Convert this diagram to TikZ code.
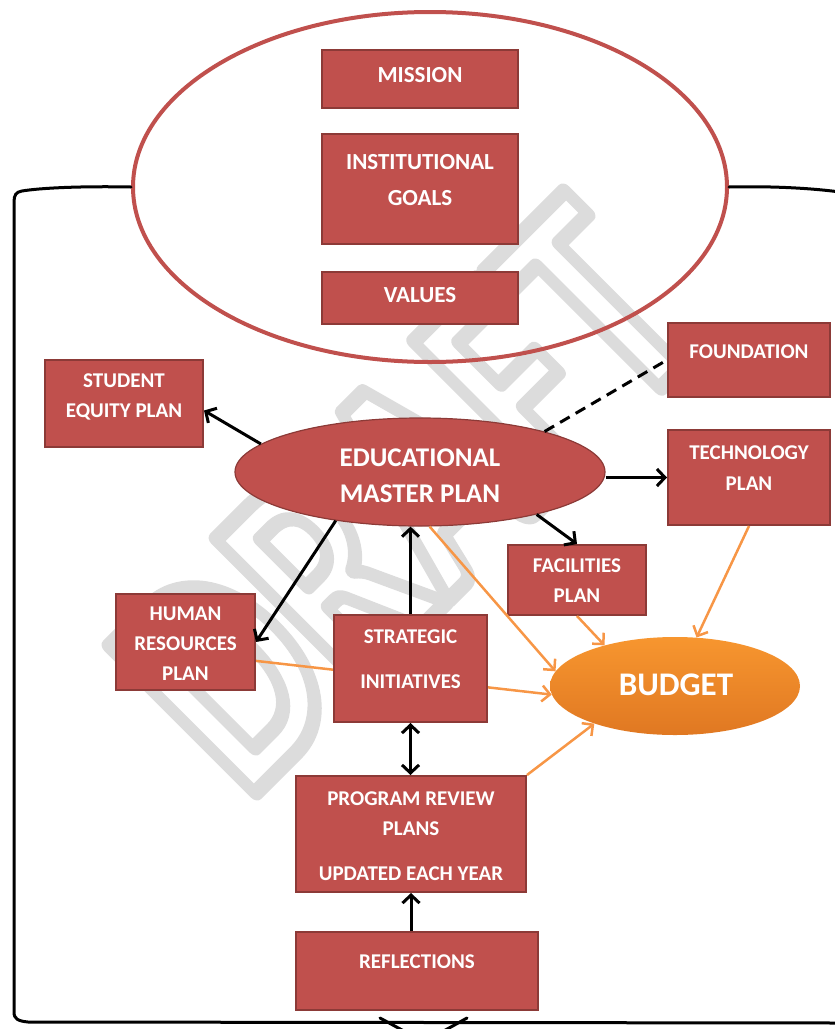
\documentclass[tikz,border=0pt]{standalone}
\usepackage{fontspec}
\setmainfont{Carlito}
\usetikzlibrary{arrows.meta,shapes.geometric}
\definecolor{boxred}{HTML}{C0504D}
\definecolor{boxedge}{HTML}{8C3A37}
\definecolor{orangeln}{HTML}{F79646}
\definecolor{budtop}{HTML}{F7962F}
\definecolor{budbot}{HTML}{E07822}
\definecolor{wmgray}{HTML}{DCDCDC}
\pgfdeclarelayer{wm}
\pgfdeclarelayer{behind}
\pgfsetlayers{wm,behind,main}
\begin{document}
\begin{tikzpicture}[x=1pt,y=-1pt,
  box/.style={rectangle, fill=boxred, draw=boxedge, line width=2pt, inner sep=0pt},
  lbl/.style={text=white, align=center, inner sep=0pt, font=\bfseries\fontsize{21}{30}\selectfont},
  biglbl/.style={lbl, font=\bfseries\fontsize{23}{36}\selectfont},
  emplbl/.style={lbl, font=\bfseries\fontsize{27}{36}\selectfont},
  blk/.style={draw=black, line width=3pt, -{Straight Barb[length=8pt,width=17pt]}},
  dbl/.style={draw=black, line width=3pt, {Straight Barb[length=8pt,width=17pt]}-{Straight Barb[length=8pt,width=17pt]}},
  org/.style={draw=orangeln, line width=2.5pt, -{Straight Barb[length=8pt,width=16pt]}},
  frame/.style={draw=black, line width=3pt, line join=round, line cap=round},
]
\useasboundingbox (0,0) rectangle (835,1029);
\clip (0,0) rectangle (835,1029);

% watermark (outlined letters)
\begin{pgfonlayer}{wm}
\node[rotate=45, text=wmgray, draw=none, line width=16pt, inner sep=0pt, font=\bfseries\fontsize{320}{320}\selectfont] (wm) at (406,496)
  {\special{pdf:code 1 Tr 16 w 1 j}\scalebox{0.75}[1]{DRAFT}\special{pdf:code 0 Tr}};
\end{pgfonlayer}

% top ellipse
\node[ellipse, draw=boxred, line width=4pt, minimum width=594pt, minimum height=350pt] (outer) at (430,187) {};
\node[box, minimum width=196pt, minimum height=58pt] (mission) at (420,79) {};
\node[biglbl] (missiont) at (420,75) {MISSION};
\node[box, minimum width=196pt, minimum height=110pt] (goals) at (420,189) {};
\node[biglbl] (goalst) at (420,180) {INSTITUTIONAL\\GOALS};
\node[box, minimum width=196pt, minimum height=52pt] (values) at (420,298) {};
\node[biglbl] (valuest) at (420,295) {VALUES};

% frame
\draw[frame] (outer.west) .. controls (80,186) and (40,188) .. (22,191) .. controls (16,192) and (14,195) .. (14,202) -- (14,1012) .. controls (14,1019) and (18,1021) .. (28,1022) -- (840,1023);
\draw[frame] (outer.east) .. controls (770,186) and (810,188) .. (840,192);
\draw[frame] (380,1018) -- (424,1042) -- (467,1018);

% boxes
\node[box, minimum width=158pt, minimum height=87pt] (student) at (124,403.5) {};
\node[lbl] (studentt) at (124,397) {STUDENT\\EQUITY PLAN};
\node[box, minimum width=162pt, minimum height=74pt] (found) at (749,360) {};
\node[lbl] (foundt) at (749,352) {FOUNDATION};
\node[ellipse, fill=boxred, draw=boxedge, line width=1.2pt, minimum width=370pt, minimum height=108pt, inner sep=0pt] (emp) at (420,472) {};
\node[emplbl] (empt) at (420,476) {EDUCATIONAL\\MASTER PLAN};
\node[box, minimum width=162pt, minimum height=95pt] (tech) at (749,477.5) {};
\node[lbl, font=\bfseries\fontsize{21}{31}\selectfont] (techt) at (749,468.5) {TECHNOLOGY\\PLAN};
\node[box, minimum width=138pt, minimum height=70pt] (fac) at (577,580) {};
\node[lbl] (fact) at (577,581) {FACILITIES\\PLAN};
\node[box, minimum width=139pt, minimum height=96pt] (hr) at (185.5,642) {};
\node[lbl] (hrt) at (185.5,644) {HUMAN\\RESOURCES\\PLAN};
\node[box, minimum width=153pt, minimum height=107pt] (strat) at (410.5,668.5) {};
\node[lbl] (stratt) at (410.5,659.5) {STRATEGIC\\[15pt]INITIATIVES};
\node[ellipse, top color=budtop, bottom color=budbot, draw=none, minimum width=250pt, minimum height=98pt, inner sep=0pt] (budget) at (675,686) {};
\node[lbl, font=\bfseries\fontsize{33}{36}\selectfont] (budgett) at (676,685) {BUDGET};
\node[box, minimum width=230pt, minimum height=116pt] (prog) at (411,834) {};
\node[lbl] (progt) at (411,836) {PROGRAM REVIEW\\PLANS\\[15pt]UPDATED EACH YEAR};
\node[box, minimum width=242pt, minimum height=78pt] (refl) at (417,971) {};
\node[lbl] (reflt) at (417,962) {REFLECTIONS};

% hidden orange line behind strategic box
\begin{pgfonlayer}{behind}
\draw[org] (hr.-15) -- (budget.184);
\end{pgfonlayer}

% black connectors
\draw[blk] (emp.170) -- (student.-5);
\draw[draw=black, line width=3pt, dash pattern=on 11pt off 7pt] (emp.18) -- (found.west);
\draw[blk] (emp.east |- tech.west) -- (tech.west);
\draw[blk] (emp.-20) -- (fac.north);
\draw[blk] (emp.-150) -- (hr.east);
\draw[blk] (strat.north) -- (strat.north |- emp.south);
\draw[dbl] (strat.south) -- (strat.south |- prog.north);
\draw[blk] (prog.south |- refl.north) -- (prog.south);

% orange connectors
\draw[org] (emp.-80) -- (budget.173);
\draw[org] (fac.south) -- (budget.150);
\draw[org] (tech.south) -- (budget.66);
\draw[org] (prog.north east) -- (budget.-155);
\end{tikzpicture}
\end{document}
